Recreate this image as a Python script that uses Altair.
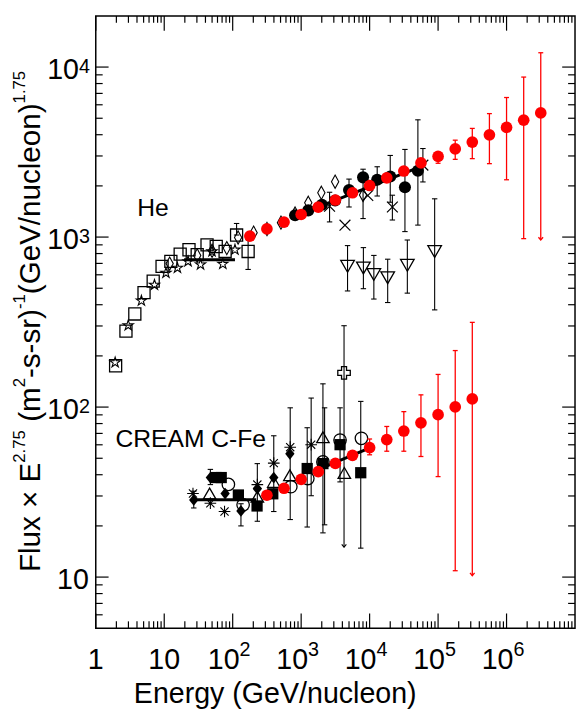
import altair as alt
import pandas as pd

# ---------------- He data ----------------
he_sq_E = [1.95, 2.76, 3.72, 5.07, 6.9, 9.3, 12.5, 17.1, 23, 30.3, 42.2, 57.5, 77.5, 114, 168]
he_sq_F = [175, 280, 353, 471, 551, 673, 720, 794, 842, 788, 900, 880, 823, 1028, 823]
he_star_E = [1.92, 2.98, 4.64, 7.2, 10.6, 15.6, 22.3, 33.9, 49.9, 71.8, 108]
he_star_F = [183, 302, 422, 523, 615, 658, 719, 689, 822, 694, 842]
he_dia_E = [12, 30.3, 50, 82, 120, 202, 317, 507, 815, 1270, 1972, 3133, 8020]
he_dia_F = [698, 780, 830, 861, 994, 1061, 1115, 1216, 1374, 1590, 1820, 2117, 1770]
he_cream_E = [815, 1270, 2010, 3133, 5000, 8020, 12900, 20000, 32800, 50700]
he_cream_F = [1343, 1436, 1549, 1640, 1892, 2245, 2175, 2274, 1963, 2455]
he_x_E = [2600, 4365, 9400, 21500, 60000]
he_x_F = [1520, 1175, 1756, 1503, 2650]
he_err_E = [114, 168, 2600, 5000, 8020, 12900, 20000, 21500, 32800, 50700, 60000]
he_err_lo = [1028, 645, 1228, 1503, 1285, 1744, 1603, 1260, 1077, 1176, 2110]
he_err_hi = [1202, 966, 1835, 2193, 2507, 2592, 3021, 1763, 3277, 4894, 3318]
he_tri_E = [4760, 8110, 11530, 18360, 35560, 89100]
he_tri_F = [673, 658, 603, 576, 682, 822]
he_tri_lo = [482, 497, 432, 412, 468, 373]
he_tri_hi = [891, 867, 780, 741, 961, 1679]
he_line_E = [19.5, 108]
he_line_F = [736, 736]
he_line2_E = [1300, 56000]
he_line2_F = [1430, 2600]
he_red_E = [178, 316, 562, 1000, 1778, 3162, 5623, 1e4, 1.78e4, 3.16e4, 5.62e4,
            1e5, 1.78e5, 3.16e5, 5.62e5, 1e6, 1.78e6, 3.16e6]
he_red_F = [1014, 1117, 1225, 1358, 1500, 1652, 1822, 2010, 2232, 2447, 2731,
            2980, 3302, 3621, 3995, 4417, 4869, 5371]
he_red_err_E = [1e5, 1.78e5, 3.16e5, 5.62e5, 1e6, 1.78e6]
he_red_err_lo = [2717, 2866, 2893, 2703, 2173, 979]
he_red_err_hi = [3105, 3715, 4357, 5324, 6620, 8733]
he_red_lim_E = [3.16e6]          # upper-limit bar (arrow at bottom)
he_red_lim_lo = [961]
he_red_lim_hi = [12140]

# ---------------- CREAM C-Fe data ----------------
cfe_red_E = [316, 562, 1000, 1778, 3162, 5623, 1e4, 1.78e4, 3.16e4, 5.62e4, 1e5, 1.78e5, 3.16e5]
cfe_red_F = [30.3, 33.3, 37.6, 41.7, 46.6, 52.0, 57.7, 64.4, 72.3, 80.8, 90.2, 100.2, 111.7]
cfe_red_err_E = [1e4, 1.78e4, 3.16e4, 5.62e4, 1e5, 1.78e5]
cfe_red_err_lo = [52.4, 55, 55, 51.2, 39, 10.9]
cfe_red_err_hi = [64.9, 76.9, 94, 118, 155.6, 215]
cfe_red_lim_E = [3.16e5]
cfe_red_lim_lo = [10.2]
cfe_red_lim_hi = [315]
cfe_line_E = [27, 221]
cfe_line_F = [28.5, 28.5]
cfe_line2_E = [1800, 10500]
cfe_line2_F = [43, 58]
cfe_dia_E = [27, 47.2, 77.5, 132, 229, 398, 684]
cfe_dia_F = [28.4, 38.5, 31, 24.5, 33.1, 38.5, 53.1]
cfe_ast_E = [26.3, 47.2, 76, 229, 398, 692, 1400]
cfe_ast_F = [31, 27.2, 24.3, 35, 46.8, 58.1, 60.1]
cfe_tri_E = [46, 229, 398, 684, 2080, 4270]
cfe_tri_F = [31, 29.7, 36.3, 39.7, 66.4, 41]
cfe_circ_E = [86.5, 142, 706, 1250, 2080, 3700, 7590]
cfe_circ_F = [35.1, 26.6, 34, 38, 47.6, 64, 65.5]
cfe_sq_E = [57, 68, 121, 227, 385, 1225, 2080, 3700, 7420]
cfe_sq_F = [38.5, 38.5, 30.4, 26.2, 30.9, 43.5, 46.5, 60.1, 41.1]
cfe_plus_E = [4230]
cfe_plus_F = [159]
cfe_err_E = [27, 47.2, 132, 229, 398, 692, 1225, 1400, 2080, 2200, 3700, 7420]
cfe_err_lo = [25.5, 35, 20, 21.3, 24.3, 21.8, 19.7, 30.1, 18.2, 20.3, 36.3, 14.8]
cfe_err_hi = [32, 43, 27, 46.5, 67.8, 99, 75.6, 113, 137, 99, 99, 108]
cfe_lim_E = [4230]
cfe_lim_lo = [15]
cfe_lim_hi = [301]

# ---------------- labels / ticks ----------------
ann_text = ["He", "CREAM C-Fe"]
ann_E = [4.02, 1.94]
ann_F = [1330, 58.2]
x_major = [1, 10, 100, 1e3, 1e4, 1e5, 1e6]
x_minor = [m * 10 ** k for k in range(0, 7) for m in range(2, 10)]
y_major = [10, 100, 1000, 10000]
y_minor = [m * 10 ** k for k in range(0, 5) for m in range(2, 10) if 5 < m * 10 ** k < 2e4]
x_lab_plain_E = [1, 10]
x_lab_plain_t = ["1", "10"]
x_lab_exp_E = [100, 1e3, 1e4, 1e5, 1e6]
x_lab_exp_t = ["2", "3", "4", "5", "6"]
y_lab_plain_F = [10]
y_lab_exp_F = [100, 1000, 10000]
y_lab_exp_t = ["2", "3", "4"]

W, H = 486, 621
FONT = "Liberation Sans"
XS = alt.Scale(type="log", domain=[1, 1e7], nice=False)
YS = alt.Scale(type="log", domain=[5, 2e4], nice=False)


def X(f="E"):
    return alt.X(f"{f}:Q", scale=XS, axis=None)


def Y(f="F"):
    return alt.Y(f"{f}:Q", scale=YS, axis=None)


def pts(E, F, shape, filled, color="black", size=121, sw=1.3):
    df = pd.DataFrame({"E": E, "F": F})
    return alt.Chart(df).mark_point(shape=shape, filled=filled, color=color, size=size,
                                    strokeWidth=sw, opacity=1).encode(x=X(), y=Y())


ARROW = "M-1,-1.2L0,0L1,-1.2"


def errs(E, lo, hi, color="black", cap=30, sw=1.1, arrow=False):
    df = pd.DataFrame({"E": E, "lo": lo, "hi": hi})
    base = alt.Chart(df)
    rule = base.mark_rule(color=color, strokeWidth=sw).encode(x=X(), y=Y("lo"), y2=alt.Y2("hi:Q"))
    top = base.mark_point(shape="stroke", color=color, size=cap, strokeWidth=sw, opacity=1).encode(x=X(), y=Y("hi"))
    if arrow:
        bot = base.mark_point(shape=ARROW, filled=False, color=color, size=22, strokeWidth=sw,
                              opacity=1).encode(x=X(), y=Y("lo"))
    else:
        bot = base.mark_point(shape="stroke", color=color, size=cap, strokeWidth=sw, opacity=1).encode(x=X(), y=Y("lo"))
    return [rule, top, bot]


def line(E, F):
    return alt.Chart(pd.DataFrame({"E": E, "F": F})).mark_line(color="black", strokeWidth=3).encode(x=X(), y=Y())


STAR = "M0,-1L0.223,-0.307L0.951,-0.309L0.361,0.117L0.588,0.809L0,0.38L-0.588,0.809L-0.361,0.117L-0.951,-0.309L-0.223,-0.307Z"
TALLDIA = "M0,-1L0.55,0L0,1L-0.55,0Z"
DIA = "M0,-1L0.8,0L0,1L-0.8,0Z"
XSYM = "M-1,-1L1,1M-1,1L1,-1"
AST = "M-1,0L1,0M0,-1L0,1M-0.7,-0.7L0.7,0.7M-0.7,0.7L0.7,-0.7"

layers = []


def xt(vals, y1, y2):
    return alt.Chart(pd.DataFrame({"E": vals})).mark_rule(color="black", strokeWidth=1.2).encode(
        x=X(), y=alt.value(y1), y2=alt.value(y2))


def yt(vals, x1, x2):
    return alt.Chart(pd.DataFrame({"F": vals})).mark_rule(color="black", strokeWidth=1.2).encode(
        y=Y(), x=alt.value(x1), x2=alt.value(x2))


layers += [xt(x_major, H, H - 15), xt(x_major, 0, 15), xt(x_minor, H, H - 7), xt(x_minor, 0, 7),
           yt(y_major, 0, 13), yt(y_major, W, W - 13), yt(y_minor, 0, 7), yt(y_minor, W, W - 7)]

# He
layers += [line(he_line_E, he_line_F), line(he_line2_E, he_line2_F)]
layers += errs(he_err_E, he_err_lo, he_err_hi)
layers += errs(he_tri_E, he_tri_lo, he_tri_hi)
layers += [
    pts(he_sq_E, he_sq_F, "square", False, size=150),
    pts(he_star_E, he_star_F, STAR, False, size=120, sw=1.1),
    pts(he_dia_E, he_dia_F, TALLDIA, False, size=180, sw=1.1),
    pts(he_cream_E, he_cream_F, "circle", True, size=150),
    pts(he_x_E, he_x_F, XSYM, False, size=120, sw=1.2),
    pts(he_tri_E, he_tri_F, "triangle-down", False, size=190),
]

# CFe
layers += [line(cfe_line_E, cfe_line_F), line(cfe_line2_E, cfe_line2_F)]
layers += errs(cfe_err_E, cfe_err_lo, cfe_err_hi)
layers += errs(cfe_lim_E, cfe_lim_lo, cfe_lim_hi, arrow=True)
layers += [
    pts(cfe_dia_E, cfe_dia_F, DIA, True, size=140),
    pts(cfe_ast_E, cfe_ast_F, AST, False, size=140, sw=1.1),
    pts(cfe_tri_E, cfe_tri_F, "triangle-up", False, size=160),
    pts(cfe_circ_E, cfe_circ_F, "circle", False, size=160),
    pts(cfe_sq_E, cfe_sq_F, "square", True, size=130),
    pts(cfe_plus_E, cfe_plus_F, "cross", False, size=160),
]

# red
layers += errs(he_red_err_E, he_red_err_lo, he_red_err_hi, color="red", cap=25, sw=1.3)
layers += errs(he_red_lim_E, he_red_lim_lo, he_red_lim_hi, color="red", cap=25, sw=1.3, arrow=True)
layers += errs(cfe_red_err_E, cfe_red_err_lo, cfe_red_err_hi, color="red", cap=25, sw=1.3)
layers += errs(cfe_red_lim_E, cfe_red_lim_lo, cfe_red_lim_hi, color="red", cap=25, sw=1.3, arrow=True)
layers += [
    pts(he_red_E, he_red_F, "circle", True, color="red", size=140),
    pts(cfe_red_E, cfe_red_F, "circle", True, color="red", size=140),
]

# annotations
layers.append(alt.Chart(pd.DataFrame({"E": ann_E, "F": ann_F, "t": ann_text})).mark_text(
    font=FONT, fontSize=25, align="left", baseline="alphabetic", color="black").encode(
    x=X(), y=Y(), text="t:N"))

# x tick labels
layers.append(alt.Chart(pd.DataFrame({"E": x_lab_plain_E, "t": x_lab_plain_t})).mark_text(
    font=FONT, fontSize=29, align="center", baseline="alphabetic").encode(
    x=X(), y=alt.value(H + 41), text="t:N"))
layers.append(alt.Chart(pd.DataFrame({"E": x_lab_exp_E, "t": ["10"] * len(x_lab_exp_E)})).mark_text(
    font=FONT, fontSize=29, align="right", baseline="alphabetic", dx=7).encode(
    x=X(), y=alt.value(H + 41), text="t:N"))
layers.append(alt.Chart(pd.DataFrame({"E": x_lab_exp_E, "t": x_lab_exp_t})).mark_text(
    font=FONT, fontSize=20, align="left", baseline="alphabetic", dx=7).encode(
    x=X(), y=alt.value(H + 28), text="t:N"))

# y tick labels
layers.append(alt.Chart(pd.DataFrame({"F": y_lab_plain_F, "t": ["10"]})).mark_text(
    font=FONT, fontSize=29, align="right", baseline="alphabetic", dy=12).encode(
    y=Y(), x=alt.value(-7), text="t:N"))
layers.append(alt.Chart(pd.DataFrame({"F": y_lab_exp_F, "t": ["10"] * 3})).mark_text(
    font=FONT, fontSize=29, align="right", baseline="alphabetic", dy=12).encode(
    y=Y(), x=alt.value(-17), text="t:N"))
layers.append(alt.Chart(pd.DataFrame({"F": y_lab_exp_F, "t": y_lab_exp_t})).mark_text(
    font=FONT, fontSize=20, align="left", baseline="alphabetic", dy=6).encode(
    y=Y(), x=alt.value(-17), text="t:N"))

# x title
layers.append(alt.Chart(pd.DataFrame({"t": ["Energy (GeV/nucleon)"]})).mark_text(
    font=FONT, fontSize=29, align="center", baseline="alphabetic").encode(
    x=alt.value(182), y=alt.value(H + 76), text="t:N"))

# y title built from pieces (main text + superscripts)
ADV = {'F': 611, 'l': 222, 'u': 556, 'x': 500, ' ': 278, '×': 584, 'E': 667, '2': 556, '.': 278,
       '7': 556, '5': 556, '(': 333, 'm': 833, '-': 333, 's': 500, 'r': 333, ')': 333, '1': 556,
       'G': 778, 'e': 556, 'V': 667, '/': 278, 'n': 556, 'c': 500, 'o': 556}
pieces = [("Flux × E", False), ("2.75", True), (" (m", False), ("2", True), ("-s-sr)", False),
          ("-1", True), ("(GeV/nucleon)", False), ("1.75", True)]
ycur = 564.0
for txt, sup in pieces:
    fs = 17 if sup else 30
    lead = len(txt) - len(txt.lstrip(" "))
    ycur -= lead * ADV[' '] / 1000.0 * fs   # leading spaces are collapsed in SVG
    txt = txt.lstrip(" ")
    layers.append(alt.Chart(pd.DataFrame({"t": [txt]})).mark_text(
        font=FONT, fontSize=fs, align="left", baseline="alphabetic", angle=270).encode(
        x=alt.value(-72 if sup else -57), y=alt.value(ycur), text="t:N"))
    ycur -= sum(ADV.get(c, 556) for c in txt) / 1000.0 * fs

chart = alt.layer(*layers).properties(
    width=W, height=H, autosize="none",
    padding={"left": 89, "top": 3, "right": 1, "bottom": 86},
).configure_view(stroke="black", strokeWidth=1.5)

chart.save("out.html", embed_options={"renderer": "svg", "actions": False})
